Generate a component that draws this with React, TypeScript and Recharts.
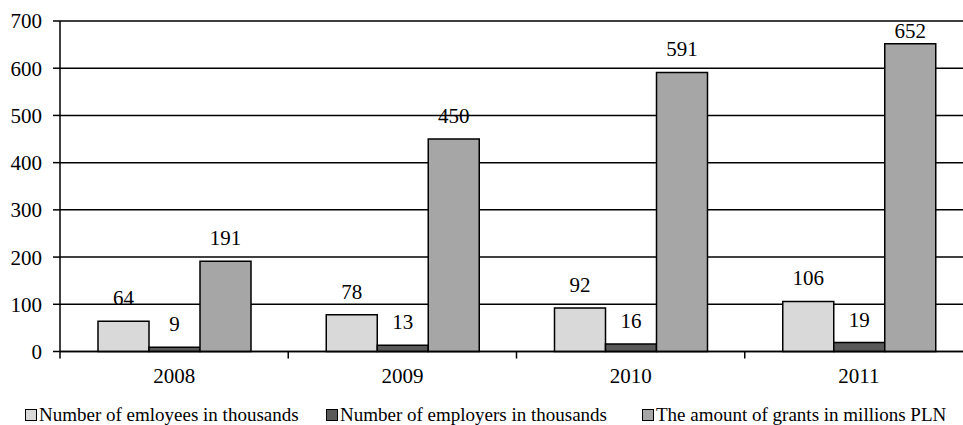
import React from "react";
import {
  BarChart,
  Bar,
  XAxis,
  YAxis,
  CartesianGrid,
  LabelList,
} from "recharts";

const years = ["2008", "2009", "2010", "2011"];
const employees = [64, 78, 92, 106];
const employers = [9, 13, 16, 19];
const grants = [191, 450, 591, 652];
const yTicks = [0, 100, 200, 300, 400, 500, 600, 700];

const seriesNames = [
  "Number of emloyees in thousands",
  "Number of employers in thousands",
  "The amount of grants in millions PLN",
];
const seriesColors = ["#d9d9d9", "#595959", "#a6a6a6"];

const data = years.map((year, i) => ({
  year,
  employees: employees[i],
  employers: employers[i],
  grants: grants[i],
}));

const FONT = '"Times New Roman", "Liberation Serif", Times, "DejaVu Serif", serif';

// chart geometry (plot runs past the right edge, like the source image)
const CHART_W = 980;
const CHART_H = 425;
const Y_AXIS_W = 60;
const MARGIN = { top: 21, right: 7, left: 0, bottom: 0 };
const HALF_BAND = (CHART_W - MARGIN.left - MARGIN.right - Y_AXIS_W) / years.length / 2;

function YearTick(props: any) {
  const { x, y, payload } = props;
  const half = payload?.offset ?? HALF_BAND;
  return (
    <g>
      <line x1={x - half} x2={x - half} y1={y} y2={y + 7} stroke="#000" strokeWidth={1.5} />
      <text x={x} y={y + 31.5} textAnchor="middle" style={{ fontFamily: FONT }} fontSize={21} fill="#000">
        {payload.value}
      </text>
    </g>
  );
}

function ValueLabel(props: any) {
  const { x, y, width, value } = props;
  // keep labels inside the plot top, as the original does for the tallest bar
  const baseline = Math.max(y - 16, 38);
  return (
    <text x={x + width / 2} y={baseline} textAnchor="middle" style={{ fontFamily: FONT }} fontSize={21} fill="#000">
      {value}
    </text>
  );
}

// legend x-offsets (px)
const legendX = [25, 326, 642];

export default function App() {
  const keys = ["employees", "employers", "grants"];
  return (
    <div
      style={{
        position: "absolute",
        left: 0,
        top: 0,
        width: 963,
        height: 425,
        overflow: "hidden",
        background: "#fff",
        fontFamily: FONT,
      }}
    >
      <BarChart
        width={CHART_W}
        height={CHART_H}
        data={data}
        margin={MARGIN}
        barGap={0}
        barSize={51}
        style={{ fontFamily: FONT }}
      >
        <CartesianGrid vertical={false} stroke="#000" strokeWidth={1.5} />
        <XAxis
          dataKey="year"
          height={CHART_H - MARGIN.top - 330.5}
          axisLine={{ stroke: "#000", strokeWidth: 1.5 }}
          tickLine={false}
          tickSize={0}
          tickMargin={0}
          tick={<YearTick />}
          interval={0}
        />
        <YAxis
          width={Y_AXIS_W}
          domain={[0, 700]}
          ticks={yTicks}
          interval={0}
          axisLine={{ stroke: "#000", strokeWidth: 1.5 }}
          tickLine={{ stroke: "#000", strokeWidth: 1.5 }}
          tickSize={7}
          tickMargin={11}
          tick={{ fill: "#000", fontSize: 21, style: { fontFamily: FONT } }}
        />
        {keys.map((k, i) => (
          <Bar
            key={k}
            dataKey={k}
            name={seriesNames[i]}
            fill={seriesColors[i]}
            stroke="#000"
            strokeWidth={1.5}
            isAnimationActive={false}
          >
            <LabelList dataKey={k} content={<ValueLabel />} />
          </Bar>
        ))}
      </BarChart>
      {seriesNames.map((name, i) => (
        <div
          key={name}
          style={{
            position: "absolute",
            left: legendX[i],
            top: 405,
            display: "flex",
            alignItems: "center",
            fontFamily: FONT,
            fontSize: 19,
            color: "#000",
            whiteSpace: "nowrap",
            lineHeight: "20px",
          }}
        >
          <span
            style={{
              display: "inline-block",
              width: 10,
              height: 10,
              background: seriesColors[i],
              border: "1px solid #000",
              marginRight: 2,
            }}
          />
          {name}
        </div>
      ))}
    </div>
  );
}
